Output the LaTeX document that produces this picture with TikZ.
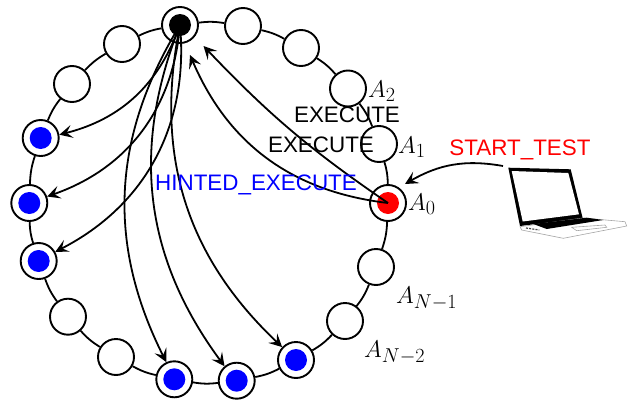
\documentclass[tikz,border=0pt]{standalone}
\usepackage{fontspec}
\setsansfont{Liberation Sans}
\usepackage{amsmath}
\usetikzlibrary{arrows.meta}

\begin{document}
\begin{tikzpicture}[x=1pt, y=-1pt,
    peer/.style={circle,draw,line width=1.9pt,minimum size=36pt,inner sep=0pt},
    dot/.style={circle,minimum size=22pt,inner sep=0pt},
    msg/.style={-{Stealth[length=13pt,width=13pt,inset=5.5pt]},line width=1.8pt},
    word/.style={font=\sffamily\fontsize{22.4}{26}\selectfont,anchor=base,inner sep=0pt},
    tag/.style={font=\Huge,scale=0.97,anchor=base west,inner sep=0pt}]
\useasboundingbox (0,0) rectangle (633,402);

% Peers around the ring
\node[peer] (a0) at (388,203) {};
\node[peer] (a1) at (379,144) {};
\node[peer] (a2) at (348,88.5) {};
\node[peer] (p3) at (301,48) {};
\node[peer] (p4) at (243,26) {};
\node[peer] (top) at (180,25) {};
\node[peer] (p6) at (122,44) {};
\node[peer] (p7) at (72,84) {};
\node[peer] (h1) at (40.7,138) {};
\node[peer] (h2) at (29.3,203) {};
\node[peer] (h3) at (38.7,261) {};
\node[peer] (p11) at (68,316.7) {};
\node[peer] (p12) at (116,357) {};
\node[peer] (h4) at (174.3,379.3) {};
\node[peer] (h5) at (236.7,380.7) {};
\node[peer] (h6) at (296,360) {};
\node[peer] (an2) at (345,321) {};
\node[peer] (an1) at (376,267) {};

% Inner dots
\node[dot,fill=red] (a0dot) at (a0) {};
\node[dot,fill=black] (topdot) at (top) {};
\node[dot,fill=blue] (h1dot) at (h1) {};
\node[dot,fill=blue] (h2dot) at (h2) {};
\node[dot,fill=blue] (h3dot) at (h3) {};
\node[dot,fill=blue] (h4dot) at (h4) {};
\node[dot,fill=blue] (h5dot) at (h5) {};
\node[dot,fill=blue] (h6dot) at (h6) {};

% Ring
\draw[line width=1.8pt] (a0) to[bend right=8] (a1) (a1) to[bend right=8] (a2) (a2) to[bend right=8] (p3)
  (p3) to[bend right=8] (p4) (p4) to[bend right=8] (top) (top) to[bend right=8] (p6) (p6) to[bend right=8] (p7)
  (p7) to[bend right=8] (h1) (h1) to[bend right=8] (h2) (h2) to[bend right=8] (h3) (h3) to[bend right=8] (p11)
  (p11) to[bend right=8] (p12) (p12) to[bend right=8] (h4) (h4) to[bend right=8] (h5) (h5) to[bend right=8] (h6)
  (h6) to[bend right=8] (an2) (an2) to[bend right=8] (an1) (an1) to[bend right=8] (a0);

% Laptop
\fill (508.3,167.7) -- (570.7,169.3) -- (582.7,218.3) -- (520,226) -- cycle;
\fill[white] (511.7,171) -- (568.3,173) -- (579,214.3) -- (522.7,221.5) -- cycle;
\draw[gray!70,line width=0.6pt] (520,226.7) -- (583,218) -- (625,221.7) -- (626.7,226) -- (563.3,238.3) -- (521.7,230) -- cycle;
\fill (533.3,224) -- (586.7,217.7) -- (603.3,220) -- (546.7,229) -- cycle;
\draw[gray!70,line width=0.6pt] (571.7,227.3) -- (605,225) -- (606.7,227.3) -- (576.7,230.7) -- cycle;
\draw[black!70,line width=1.2pt,dash pattern=on 2pt off 1.2pt] (526,228) -- (539.3,230);

% Hints from the top peer
\coordinate (hit1) at (203.5,46);
\coordinate (hit2) at (190,55);
\coordinate (hit3) at (405,184);
\coordinate (laptop) at (503,166);
\draw[msg] (top.center) to[bend left=28] (h1.10);
\draw[msg] (top.center) to[bend left=33] (h2.20);
\draw[msg] (top.center) to[bend left=34] (h3.29);
\draw[msg] (top.center) to[bend right=29] (h4.115);
\draw[msg] (top.center) to[bend right=29] (h5.130);
\draw[msg] (top.center) to[bend right=29] (h6.137);

% Execute messages
\draw[msg] (a0.center) to[bend left=6] (hit1);
\draw[msg] (a0.center) to[bend left=30] (hit2);

% Start message
\draw[msg] (laptop) to[out=170,in=30] (hit3);

% Labels
\node[word] (exec1) at (347,122.7) {EXECUTE};
\node[word] (exec2) at (321,152.7) {EXECUTE};
\node[word,text=blue] (hinted) at (256,190.7) {HINTED\_EXECUTE};
\node[word,text=red] (start) at (520,155) {START\_TEST};
\node[tag] (a2tag) at (368,97) {$A_2$};
\node[tag] (a1tag) at (398,153) {$A_1$};
\node[tag] (a0tag) at (408,210) {$A_0$};
\node[tag] (an1tag) at (396,303) {$A_{N-1}$};
\node[tag] (an2tag) at (364,357) {$A_{N-2}$};

\end{tikzpicture}
\end{document}
